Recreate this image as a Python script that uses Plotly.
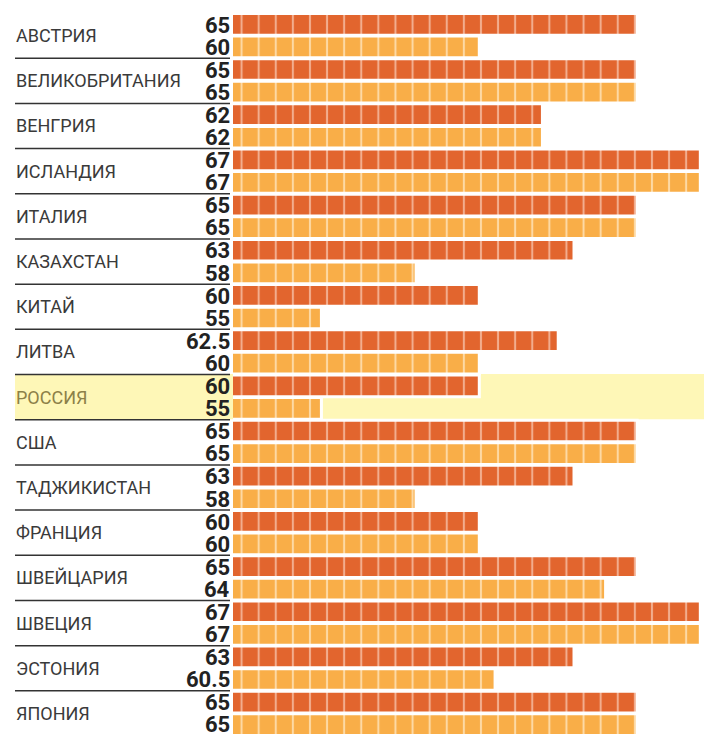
import plotly.graph_objects as go

countries = ["АВСТРИЯ", "ВЕЛИКОБРИТАНИЯ", "ВЕНГРИЯ", "ИСЛАНДИЯ", "ИТАЛИЯ", "КАЗАХСТАН",
             "КИТАЙ", "ЛИТВА", "РОССИЯ", "США", "ТАДЖИКИСТАН", "ФРАНЦИЯ",
             "ШВЕЙЦАРИЯ", "ШВЕЦИЯ", "ЭСТОНИЯ", "ЯПОНИЯ"]
men = [65, 65, 62, 67, 65, 63, 60, 62.5, 60, 65, 63, 60, 65, 67, 63, 65]
women = [60, 65, 62, 67, 65, 58, 55, 60, 55, 65, 58, 60, 64, 67, 60.5, 65]
highlight = "РОССИЯ"

DARK = "#E2652E"
LIGHT = "#F9AE48"
DARK_STRIPE = "#F2AD8E"
LIGHT_STRIPE = "#FDD9A4"

W, H = 706, 752
ML, MR, MT, MB = 233, 0, 13, 16
x0, x1 = 52.2, 67.18
pos = list(range(len(countries)))

def fmt(v):
    return str(int(v)) if float(v).is_integer() else str(v)

fig = go.Figure()
for vals, col, stripe in [(men, DARK, DARK_STRIPE), (women, LIGHT, LIGHT_STRIPE)]:
    fig.add_trace(go.Bar(
        y=pos, x=vals, orientation="h",
        marker=dict(color=col, line=dict(color="white", width=3),
                    pattern=dict(shape="|", size=17.1, solidity=0.12,
                                 fgcolor=stripe, bgcolor=col, fillmode="replace")),
        hoverinfo="skip", showlegend=False,
    ))

pw = W - ML - MR
def px2paper(p):
    return (p - ML) / pw

shapes = []
annotations = []
for i, c in enumerate(countries):
    is_hl = c == highlight
    if is_hl:
        shapes.append(dict(type="rect", xref="paper", yref="y", layer="below",
                           x0=px2paper(15), x1=px2paper(704), y0=i - 0.51, y1=i + 0.49,
                           fillcolor="#FEF7B7", line=dict(width=0)))
    if i < len(countries) - 1:
        shapes.append(dict(type="line", xref="paper", yref="y",
                           x0=px2paper(15), x1=px2paper(230), y0=i + 0.5, y1=i + 0.5,
                           line=dict(color="#333333", width=1.5)))
    annotations.append(dict(xref="paper", yref="y", x=px2paper(14), y=i, text=c,
                            xanchor="left", yanchor="middle", showarrow=False,
                            font=dict(family="Roboto", size=18,
                                      color="#8C8048" if is_hl else "#3A3A3A")))
    for v, dy in [(men[i], -0.245), (women[i], 0.245)]:
        annotations.append(dict(xref="paper", yref="y", x=px2paper(231), y=i + dy,
                                text="<b>" + fmt(v) + "</b>", xanchor="right", yanchor="middle",
                                showarrow=False, height=20, borderpad=0,
                                font=dict(family="Roboto", size=22, color="#222222")))

fig.update_layout(
    width=W, height=H,
    margin=dict(l=ML, r=MR, t=MT, b=MB),
    paper_bgcolor="white", plot_bgcolor="rgba(0,0,0,0)",
    barmode="group", bargap=0.0, bargroupgap=0.04,
    xaxis=dict(range=[x0, x1], visible=False, fixedrange=True),
    yaxis=dict(range=[len(countries) - 0.5, -0.5], visible=False, fixedrange=True),
    shapes=shapes, annotations=annotations,
)
fig.write_html("out.html", config={"displayModeBar": False},
               post_script="document.body.style.margin='0';")
